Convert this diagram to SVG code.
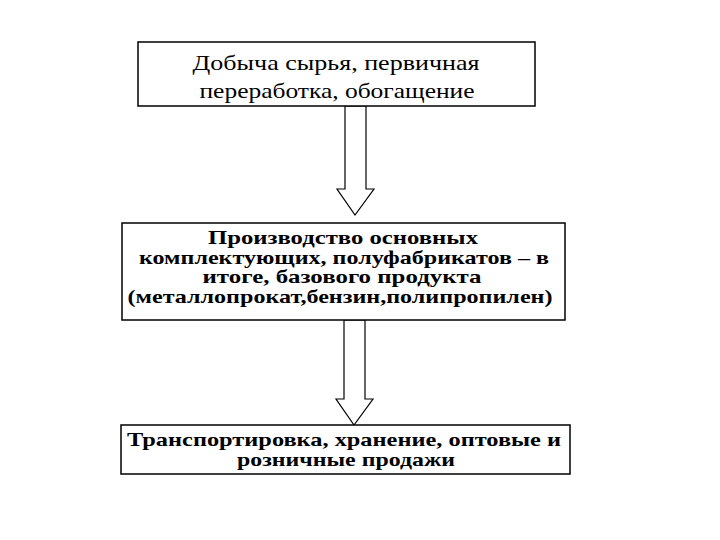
<svg xmlns="http://www.w3.org/2000/svg" width="720" height="540" viewBox="0 0 720 540">
<style>
.box{fill:#fff;stroke:#000;stroke-width:1.5}
.arr{fill:#fff;stroke:#000;stroke-width:1.2}
text{font-family:'Liberation Serif','Times New Roman',serif;font-size:22px;text-anchor:middle;fill:#000}
.b{font-weight:bold;font-size:19px}
</style>
<rect width="720" height="540" fill="#fff"/>
<g id="connectors">
<polygon class="arr" points="345,106 366,106 366,189 374,189 355,215 337,189 345,189"/>
<polygon class="arr" points="344,320 365,320 365,399 373,399 354,425 336,399 344,399"/>
</g>
<g id="n1">
<rect class="box" x="138" y="42" width="397" height="64"/>
<text x="336" y="70" textLength="287" lengthAdjust="spacingAndGlyphs">Добыча сырья, первичная</text>
<text x="337" y="98" textLength="275" lengthAdjust="spacingAndGlyphs">переработка, обогащение</text>
</g>
<g id="n2">
<rect class="box" x="122" y="223" width="443" height="97"/>
<text class="b" x="343" y="244" textLength="270" lengthAdjust="spacingAndGlyphs">Производство  основных</text>
<text class="b" x="344" y="264" textLength="410" lengthAdjust="spacingAndGlyphs">комплектующих, полуфабрикатов – в</text>
<text class="b" x="342" y="283" textLength="279" lengthAdjust="spacingAndGlyphs">итоге, базового продукта</text>
<text class="b" x="340" y="303" textLength="425" lengthAdjust="spacingAndGlyphs">(металлопрокат,бензин,полипропилен)</text>
</g>
<g id="n3">
<rect class="box" x="121" y="425" width="449" height="49"/>
<text class="b" x="344" y="446" textLength="434" lengthAdjust="spacingAndGlyphs">Транспортировка, хранение, оптовые и</text>
<text class="b" x="346" y="466" textLength="218" lengthAdjust="spacingAndGlyphs">розничные продажи</text>
</g>
</svg>
